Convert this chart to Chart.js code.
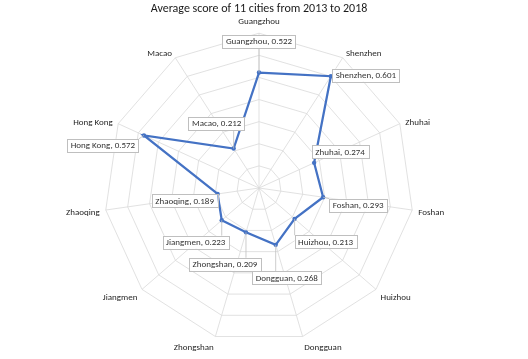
<!DOCTYPE html>
<html>
<head>
<meta charset="utf-8">
<script src="https://cdn.jsdelivr.net/npm/chart.js@4"></script>
<style>
html,body{margin:0;padding:0;background:#fff;}
#wrap{width:528px;height:359px;position:relative;}
</style>
</head>
<body>
<div id="wrap"><canvas id="c" width="528" height="359"></canvas></div>
<script>
const cities = ["Guangzhou","Shenzhen","Zhuhai","Foshan","Huizhou","Dongguan","Zhongshan","Jiangmen","Zhaoqing","Hong Kong","Macao"];
const scores = [0.522,0.601,0.274,0.293,0.213,0.268,0.209,0.223,0.189,0.572,0.212];
const titleText = "Average score of 11 cities from 2013 to 2018";
const scaleMin = 0, scaleMax = 0.7, scaleStep = 0.1;

// label box offsets relative to point (style/position only)
const labelOffsets = [[0,-31],[35,-1],[26,-11],[35,8],[31,23],[11,33],[-21,32],[-26,22],[-33,7],[-41,10],[-17,-25]];

const FONT = "Carlito, Lato, 'Liberation Sans', sans-serif";

// Excel-like category labels around the radar
const axisLabelPlugin = {
  id: 'axisLabels',
  afterDatasetsDraw(chart){
    const scale = chart.scales.r;
    const ctx = chart.ctx;
    ctx.save();
    ctx.font = "9px " + FONT;
    ctx.fillStyle = "#262626";
    const R = scale.drawingArea;
    chart.data.labels.forEach((lab,i)=>{
      const a = scale.getIndexAngle(i);
      const s = Math.sin(a), c = Math.cos(a);
      if (Math.abs(s) < 0.05) {
        const p = scale.getPointPosition(i, R + 8);
        ctx.textAlign = "center";
        ctx.textBaseline = c > 0 ? "bottom" : "top";
        ctx.fillText(lab, p.x, p.y + (c > 0 ? 1 : -1));
      } else {
        const p = scale.getPointPosition(i, R + 6);
        ctx.textAlign = s > 0 ? "left" : "right";
        ctx.textBaseline = "middle";
        ctx.fillText(lab, p.x, p.y + 1.5 + Math.max(0, -c) * 4);
      }
    });
    ctx.restore();
  }
};

const labelPlugin = {
  id: 'boxLabels',
  afterDatasetsDraw(chart){
    const ctx = chart.ctx;
    const meta = chart.getDatasetMeta(0);
    ctx.save();
    ctx.font = "9px " + FONT;
    ctx.textAlign = "center";
    ctx.textBaseline = "middle";
    meta.data.forEach((pt,i)=>{
      const txt = cities[i] + ", " + scores[i].toFixed(3);
      const cx = pt.x + labelOffsets[i][0];
      const cy = pt.y + labelOffsets[i][1];
      const w = ctx.measureText(txt).width + 7;
      const h = 13;
      const bx = Math.max(cx - w/2, Math.min(pt.x, cx + w/2));
      const by = Math.max(cy - h/2, Math.min(pt.y, cy + h/2));
      const dist = Math.hypot(pt.x-bx, pt.y-by);
      if (dist > 6) {
        ctx.strokeStyle = "#bfbfbf";
        ctx.lineWidth = 0.8;
        ctx.beginPath(); ctx.moveTo(bx,by); ctx.lineTo(pt.x,pt.y); ctx.stroke();
      }
      ctx.fillStyle = "#ffffff";
      ctx.fillRect(cx - w/2, cy - h/2, w, h);
      ctx.strokeStyle = "#bfbfbf";
      ctx.lineWidth = 1;
      ctx.strokeRect(Math.round(cx - w/2)+0.5, Math.round(cy - h/2)+0.5, Math.round(w), h);
      ctx.fillStyle = "#333333";
      ctx.fillText(txt, cx, cy+0.5);
    });
    ctx.restore();
  }
};

new Chart(document.getElementById('c'), {
  type: 'radar',
  data: {
    labels: cities,
    datasets: [{
      data: scores,
      borderColor: '#4472C4',
      backgroundColor: 'rgba(0,0,0,0)',
      borderWidth: 2.25,
      pointRadius: 2.2,
      pointBackgroundColor: '#4472C4',
      pointBorderColor: '#4472C4',
      pointBorderWidth: 0,
      fill: false
    }]
  },
  options: {
    responsive: false,
    animation: false,
    layout: { padding: { top: 0, bottom: -6, left: 0, right: 10 } },
    plugins: {
      legend: { display: false },
      tooltip: { enabled: false },
      title: {
        display: true, text: titleText, color: '#1a1a1a',
        font: { family: FONT, size: 12, weight: 'normal' },
        padding: { top: 2, bottom: -6 }
      }
    },
    scales: {
      r: {
        min: scaleMin, max: scaleMax,
        ticks: { display: false, stepSize: scaleStep },
        grid: { color: '#d9d9d9', lineWidth: 0.8 },
        angleLines: { color: '#d9d9d9', lineWidth: 0.8 },
        pointLabels: { color: 'rgba(0,0,0,0)', font: { family: FONT, size: 9 }, padding: 8 }
      }
    }
  },
  plugins: [axisLabelPlugin, labelPlugin]
});
</script>
</body>
</html>
